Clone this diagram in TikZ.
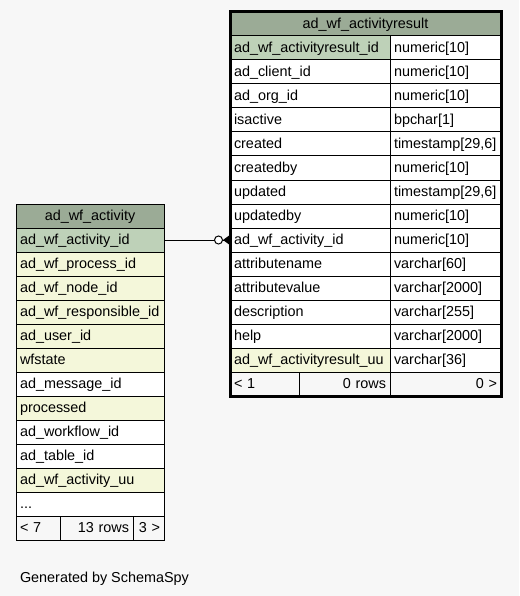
\documentclass[tikz,border=0pt]{standalone}
\usepackage{fontspec}
\setmainfont{Liberation Sans}
\usepackage{tikz}
\usetikzlibrary{arrows.meta, positioning}

\definecolor{pagebg}{HTML}{F7F7F7}
\definecolor{headbg}{HTML}{9BAB96}
\definecolor{keybg}{HTML}{BED1B8}
\definecolor{indexbg}{HTML}{F4F7DA}

\begin{document}
\begin{tikzpicture}[x=1pt, y=-1pt,
        every node/.style={font=\fontsize{14.4}{16}\selectfont, outer sep=0pt, inner ysep=0pt, inner xsep=4pt,
            text height=11pt, text depth=2pt, minimum height=24pt},
        cell/.style={rectangle, draw=black, line width=1pt, fill=white, align=left},
        head/.style={cell, fill=headbg, align=center},
        pkey/.style={cell, fill=keybg},
        idx/.style={cell, fill=indexbg},
        foot/.style={cell, fill=pagebg},
        link/.style={line width=1pt, -{Circle[open, length=9pt, width=9pt, fill=white] Triangle[reversed, length=7pt, width=10pt]}}
    ]
        \useasboundingbox[fill=pagebg] (0,0) rectangle (519,596);

        % ad_wf_activity
        \node[head, text width=140pt, anchor=north west] (a0) at (16,204) {ad\_wf\_activity};
        \node[pkey, text width=140pt, below=0pt of a0] (a1) {ad\_wf\_activity\_id};
        \node[idx, text width=140pt, below=0pt of a1] (a2) {ad\_wf\_process\_id};
        \node[idx, text width=140pt, below=0pt of a2] (a3) {ad\_wf\_node\_id};
        \node[idx, text width=140pt, below=0pt of a3] (a4) {ad\_wf\_responsible\_id};
        \node[idx, text width=140pt, below=0pt of a4] (a5) {ad\_user\_id};
        \node[idx, text width=140pt, below=0pt of a5] (a6) {wfstate};
        \node[cell, text width=140pt, below=0pt of a6] (a7) {ad\_message\_id};
        \node[idx, text width=140pt, below=0pt of a7] (a8) {processed};
        \node[cell, text width=140pt, below=0pt of a8] (a9) {ad\_workflow\_id};
        \node[cell, text width=140pt, below=0pt of a9] (a10) {ad\_table\_id};
        \node[idx, text width=140pt, below=0pt of a10] (a11) {ad\_wf\_activity\_uu};
        \node[cell, text width=140pt, below=0pt of a11] (a12) {...};
        \node[foot, text width=36pt, below=0pt of a12.south west, anchor=north west] (af1) {< 7};
        \node[foot, text width=65pt, align=right, right=0pt of af1] (af2) {13 rows};
        \node[foot, text width=23pt, align=right, right=0pt of af2] (af3) {3 >};

        % ad_wf_activityresult
        \node[head, text width=263pt, anchor=north west] (r0) at (230,12) {ad\_wf\_activityresult};
        \node[pkey, text width=152pt, below=0pt of r0.south west, anchor=north west] (r1) {ad\_wf\_activityresult\_id};
        \node[cell, text width=152pt, below=0pt of r1] (r2) {ad\_client\_id};
        \node[cell, text width=152pt, below=0pt of r2] (r3) {ad\_org\_id};
        \node[cell, text width=152pt, below=0pt of r3] (r4) {isactive};
        \node[cell, text width=152pt, below=0pt of r4] (r5) {created};
        \node[cell, text width=152pt, below=0pt of r5] (r6) {createdby};
        \node[cell, text width=152pt, below=0pt of r6] (r7) {updated};
        \node[cell, text width=152pt, below=0pt of r7] (r8) {updatedby};
        \node[cell, text width=152pt, below=0pt of r8] (r9) {ad\_wf\_activity\_id};
        \node[cell, text width=152pt, below=0pt of r9] (r10) {attributename};
        \node[cell, text width=152pt, below=0pt of r10] (r11) {attributevalue};
        \node[cell, text width=152pt, below=0pt of r11] (r12) {description};
        \node[cell, text width=152pt, below=0pt of r12] (r13) {help};
        \node[idx, text width=152pt, below=0pt of r13] (r14) {ad\_wf\_activityresult\_uu};

        \node[cell, text width=103pt, right=0pt of r1] (t1) {numeric[10]};
        \node[cell, text width=103pt, right=0pt of r2] (t2) {numeric[10]};
        \node[cell, text width=103pt, right=0pt of r3] (t3) {numeric[10]};
        \node[cell, text width=103pt, right=0pt of r4] (t4) {bpchar[1]};
        \node[cell, text width=103pt, right=0pt of r5] (t5) {timestamp[29,6]};
        \node[cell, text width=103pt, right=0pt of r6] (t6) {numeric[10]};
        \node[cell, text width=103pt, right=0pt of r7] (t7) {timestamp[29,6]};
        \node[cell, text width=103pt, right=0pt of r8] (t8) {numeric[10]};
        \node[cell, text width=103pt, right=0pt of r9] (t9) {numeric[10]};
        \node[cell, text width=103pt, right=0pt of r10] (t10) {varchar[60]};
        \node[cell, text width=103pt, right=0pt of r11] (t11) {varchar[2000]};
        \node[cell, text width=103pt, right=0pt of r12] (t12) {varchar[255]};
        \node[cell, text width=103pt, right=0pt of r13] (t13) {varchar[2000]};
        \node[cell, text width=103pt, right=0pt of r14] (t14) {varchar[36]};

        \node[foot, text width=61pt, below=0pt of r14.south west, anchor=north west] (rf1) {< 1};
        \node[foot, text width=83pt, align=right, right=0pt of rf1] (rf2) {0 rows};
        \node[foot, text width=103pt, align=right, right=0pt of rf2] (rf3) {0 >};
        \draw[line width=3pt] (r0.north west) rectangle (rf3.south east);

        \draw[link] (a1.east) -- (r9.west);

        \node[anchor=base west, minimum height=0pt] (gen) at (16,582) {Generated by SchemaSpy};
    \end{tikzpicture}
\end{document}
